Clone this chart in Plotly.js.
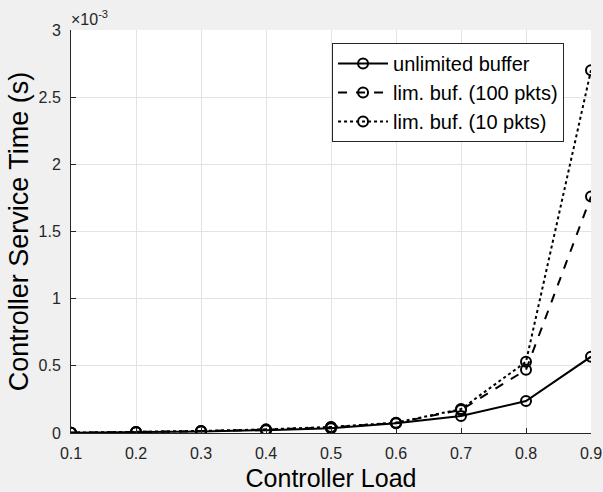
<!DOCTYPE html>
<html>
<head>
<meta charset="utf-8">
<script src="https://cdn.plot.ly/plotly-3.0.1.min.js"></script>
<style>html,body{margin:0;padding:0;background:#f0f0f0;}</style>
</head>
<body>
<div id="chart" style="width:603px;height:492px;"></div>
<script>
// Controller load (x) and service time in units of 1e-3 s (y)
const load = [0.1, 0.2, 0.3, 0.4, 0.5, 0.6, 0.7, 0.8, 0.9];
const unlimited = [0.002, 0.006, 0.012, 0.021, 0.035, 0.072, 0.126, 0.238, 0.568];
const lim100 = [0.002, 0.007, 0.014, 0.025, 0.042, 0.075, 0.172, 0.47, 1.76];
const lim10 = [0.002, 0.007, 0.015, 0.027, 0.045, 0.077, 0.178, 0.53, 2.70];
const seriesNames = ['unlimited buffer', 'lim. buf. (100 pkts)', 'lim. buf. (10 pkts)'];
const yTicks = [0, 0.5, 1, 1.5, 2, 2.5, 3];
const yTickText = ['0', '0.5', '1', '1.5', '2', '2.5', '3'];
const xTicks = [0.1, 0.2, 0.3, 0.4, 0.5, 0.6, 0.7, 0.8, 0.9];

const mk = {symbol: 'circle-open', size: 10, color: '#000', line: {width: 2, color: '#000'}};
const traces = [
  {x: load, y: unlimited, name: seriesNames[0], mode: 'lines+markers', line: {color: '#000', width: 2, dash: 'solid'}, marker: mk},
  {x: load, y: lim100, name: seriesNames[1], mode: 'lines+markers', line: {color: '#000', width: 2, dash: 'dash'}, marker: mk},
  {x: load, y: lim10, name: seriesNames[2], mode: 'lines+markers', line: {color: '#000', width: 2, dash: 'dot'}, marker: mk}
];
const font = 'Liberation Sans, Arial, sans-serif';
const layout = {
  width: 603, height: 492,
  paper_bgcolor: '#f0f0f0', plot_bgcolor: '#ffffff',
  margin: {l: 71, r: 12, t: 30, b: 59},
  font: {family: font, color: '#262626'},
  showlegend: true,
  legend: {x: 0.502, y: 0.968, xanchor: 'left', yanchor: 'top', bgcolor: '#ffffff', bordercolor: '#262626', borderwidth: 1,
           font: {size: 20, color: '#000', family: font}, tracegroupgap: 0, itemwidth: 50},
  xaxis: {
    range: [0.1, 0.9], tickvals: xTicks, ticktext: xTicks.map(v => v.toFixed(1)),
    showgrid: true, gridcolor: '#e3e3e3', zeroline: false,
    showline: true, linecolor: '#262626', linewidth: 1, mirror: false,
    ticks: 'inside', ticklen: 5, tickcolor: '#262626', ticklabelstandoff: 6,
    tickfont: {size: 16, color: '#262626'},
    title: {text: 'Controller Load', font: {size: 25, color: '#000'}, standoff: 8}
  },
  yaxis: {
    range: [0, 3], tickvals: yTicks, ticktext: yTickText, automargin: true,
    showgrid: true, gridcolor: '#e3e3e3', zeroline: false,
    showline: true, linecolor: '#262626', linewidth: 1, mirror: false,
    ticks: 'inside', ticklen: 5, tickcolor: '#262626', ticklabelstandoff: 6,
    tickfont: {size: 16, color: '#262626'},
    title: {text: 'Controller Service Time (s)', font: {size: 27, color: '#000'}, standoff: 2}
  },
  annotations: [{
    xref: 'paper', yref: 'paper', x: 0, y: 1, xanchor: 'left', yanchor: 'bottom',
    xshift: -2, yshift: 0,
    text: '×10<sup>-3</sup>', showarrow: false, font: {size: 16, color: '#262626', family: font}
  }]
};
Plotly.newPlot('chart', traces, layout, {displayModeBar: false, staticPlot: true});
</script>
</body>
</html>
